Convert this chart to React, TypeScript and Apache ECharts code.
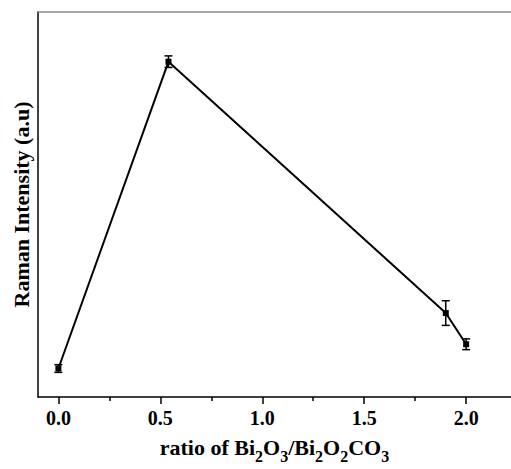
import React, { useEffect, useRef } from "react";
import * as echarts from "echarts";

const ratios = [0.0, 0.54, 1.9, 2.0];
const intensity = [7.4, 87.1, 21.8, 13.7];
const errors = [1.0, 1.5, 3.2, 1.4];
const majorTicks = [0, 0.5, 1.0, 1.5, 2.0];
const minorTicks = [0.25, 0.75, 1.25, 1.75];

const FONT = "'Liberation Serif', 'Times New Roman', serif";

export default function App() {
  const ref = useRef<HTMLDivElement>(null);
  useEffect(() => {
    if (!ref.current) return;
    const chart = echarts.init(ref.current, null, { renderer: "svg" });
    const xMin = -0.1;
    const xMax = 2.22;
    const option: any = {
      animation: false,
      backgroundColor: "#fff",
      grid: { left: 38, top: 12, right: 0, bottom: 63, containLabel: false, show: false },
      xAxis: [
        {
          type: "value",
          min: xMin,
          max: xMax,
          position: "bottom",
          splitLine: { show: false },
          axisLine: { show: true, onZero: false, lineStyle: { color: "#000", width: 1.5 } },
          axisTick: { show: true, customValues: majorTicks, length: 7, inside: false, lineStyle: { color: "#000", width: 1.5 } },
          axisLabel: {
            customValues: majorTicks,
            formatter: (v: number) => v.toFixed(1),
            color: "#000",
            fontFamily: FONT,
            fontWeight: "bold",
            fontSize: 20,
            margin: 11,
          },
          name: "{n|ratio of Bi}{s|2}{n|O}{s|3}{n|/Bi}{s|2}{n|O}{s|2}{n|CO}{s|3}",
          nameLocation: "middle",
          nameGap: 37,
          nameTextStyle: {
            rich: {
              n: { fontFamily: FONT, fontWeight: "bold", fontSize: 22, color: "#000", verticalAlign: "bottom", lineHeight: 24 },
              s: { fontFamily: FONT, fontWeight: "bold", fontSize: 16, color: "#000", verticalAlign: "bottom", lineHeight: 16, padding: [0, 0, -6, 0] },
            },
          },
        },
        {
          type: "value",
          min: xMin,
          max: xMax,
          position: "bottom",
          splitLine: { show: false },
          axisLine: { show: false, onZero: false },
          axisTick: { show: true, customValues: minorTicks, length: 4, inside: false, lineStyle: { color: "#000", width: 1.5 } },
          axisLabel: { show: false },
        },
        {
          type: "value",
          min: xMin,
          max: xMax,
          position: "top",
          splitLine: { show: false },
          axisLine: { show: true, onZero: false, lineStyle: { color: "#888", width: 1.5 } },
          axisTick: { show: false },
          axisLabel: { show: false },
        },
      ],
      yAxis: {
        type: "value",
        min: 0,
        max: 100,
        splitLine: { show: false },
        axisLine: { show: true, onZero: false, lineStyle: { color: "#000", width: 1.5 } },
        axisTick: { show: false },
        axisLabel: { show: false },
        name: "Raman Intensity (a.u)",
        nameLocation: "middle",
        nameGap: 6,
        nameTextStyle: { fontFamily: FONT, fontWeight: "bold", fontSize: 22, color: "#000" },
      },
      series: [
        {
          type: "line",
          data: ratios.map((x, i) => [x, intensity[i]]),
          symbol: "rect",
          symbolSize: 6,
          itemStyle: { color: "#000" },
          lineStyle: { color: "#000", width: 2 },
          z: 3,
        },
        {
          type: "custom",
          data: ratios.map((x, i) => [x, intensity[i] - errors[i], intensity[i] + errors[i]]),
          renderItem: (params: any, api: any) => {
            const x = api.value(0);
            const lo = api.coord([x, api.value(1)]);
            const hi = api.coord([x, api.value(2)]);
            const hw = 4;
            const style = { stroke: "#000", lineWidth: 1.5 };
            return {
              type: "group",
              children: [
                { type: "line", shape: { x1: lo[0], y1: lo[1], x2: hi[0], y2: hi[1] }, style },
                { type: "line", shape: { x1: lo[0] - hw, y1: lo[1], x2: lo[0] + hw, y2: lo[1] }, style },
                { type: "line", shape: { x1: hi[0] - hw, y1: hi[1], x2: hi[0] + hw, y2: hi[1] }, style },
              ],
            };
          },
          z: 4,
        },
      ],
    };
    chart.setOption(option);
    return () => chart.dispose();
  }, []);
  return <div ref={ref} style={{ position: "fixed", left: 0, top: 0, width: 511, height: 469 }} />;
}
